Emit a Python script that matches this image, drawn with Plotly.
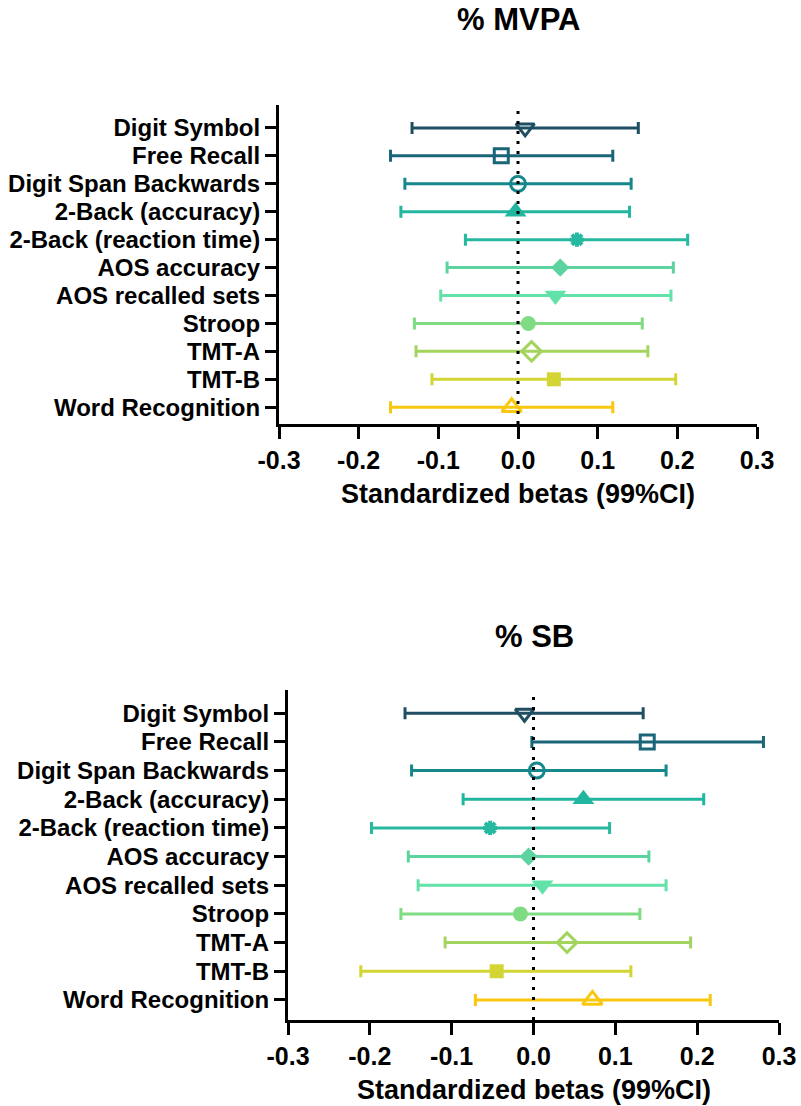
import plotly.graph_objects as go

labels = ["Digit Symbol", "Free Recall", "Digit Span Backwards", "2-Back (accuracy)",
          "2-Back (reaction time)", "AOS accuracy", "AOS recalled sets", "Stroop",
          "TMT-A", "TMT-B", "Word Recognition"]

mvpa_beta = [0.009, -0.021, 0.000, -0.003, 0.074, 0.053, 0.047, 0.013, 0.017, 0.045, -0.008]
mvpa_low = [-0.133, -0.160, -0.142, -0.147, -0.066, -0.089, -0.097, -0.130, -0.128, -0.108, -0.160]
mvpa_high = [0.151, 0.119, 0.142, 0.140, 0.213, 0.195, 0.192, 0.156, 0.163, 0.198, 0.119]

sb_beta = [-0.011, 0.139, 0.004, 0.061, -0.053, -0.006, 0.011, -0.016, 0.041, -0.045, 0.072]
sb_low = [-0.157, -0.002, -0.149, -0.086, -0.198, -0.153, -0.141, -0.162, -0.108, -0.211, -0.071]
sb_high = [0.134, 0.281, 0.162, 0.208, 0.093, 0.141, 0.162, 0.130, 0.192, 0.119, 0.216]

x_ticks = [-0.3, -0.2, -0.1, 0.0, 0.1, 0.2, 0.3]
x_tick_text = ["-0.3", "-0.2", "-0.1", "0.0", "0.1", "0.2", "0.3"]

colors = ["#1f4e62", "#1a6578", "#16878b", "#22b59f", "#27b8a0", "#5dd49f",
          "#62e1a8", "#7fdc84", "#a3d55e", "#d3d534", "#f9c80e"]
symbols = ["triangle-down-open", "square-open", "circle-open", "triangle-up",
           "asterisk-open", "diamond", "triangle-down", "circle", "diamond-open",
           "square", "triangle-up-open"]
sizes = [16, 14, 15, 19, 12, 14, 19, 15, 15, 14, 17]

FONT = "Liberation Sans, Arial, sans-serif"

fig = go.Figure()


def add_panel(beta, low, high, xa, ya):
    for i, lab in enumerate(labels):
        sym = symbols[i]
        is_open = sym.endswith("-open")
        lw = 4 if sym.startswith("asterisk") else (3 if is_open else 0)
        fig.add_trace(go.Scatter(
            x=[beta[i]], y=[lab], mode="markers",
            xaxis=xa, yaxis=ya, showlegend=False,
            marker=dict(symbol=sym, size=sizes[i], color=colors[i],
                        line=dict(color=colors[i], width=lw)),
            error_x=dict(type="data", symmetric=False,
                         array=[high[i] - beta[i]], arrayminus=[beta[i] - low[i]],
                         color=colors[i], thickness=3, width=6),
        ))


add_panel(mvpa_beta, mvpa_low, mvpa_high, "x", "y")
add_panel(sb_beta, sb_low, sb_high, "x2", "y2")

W, H = 801, 1106


def xdom(a, b):
    return [a / W, b / W]


def ydom(top, bottom):
    return [1 - bottom / H, 1 - top / H]


axis_common = dict(showline=True, linecolor="black", linewidth=3, ticks="outside",
                   tickwidth=3, tickcolor="black", showgrid=False, zeroline=False,
                   mirror=False, automargin=False)

xfont = dict(family=FONT, size=25, color="black", weight="bold")
yfont = dict(family=FONT, size=24, color="black", weight="bold")

fig.update_layout(
    width=W, height=H, autosize=False,
    margin=dict(l=0, r=0, t=0, b=0, pad=0, autoexpand=False),
    paper_bgcolor="white", plot_bgcolor="white",
    xaxis=dict(domain=xdom(279, 757), range=[-0.3, 0.3], tickmode="array",
               tickvals=x_ticks, ticktext=x_tick_text, ticklen=12, tickfont=xfont,
               anchor="y", **axis_common),
    yaxis=dict(domain=ydom(105, 424), type="category", categoryarray=labels,
               tickmode="array", tickvals=labels, ticktext=labels,
               range=[10.6, -0.82], ticklen=11, tickfont=yfont, anchor="x",
               **axis_common),
    xaxis2=dict(domain=xdom(288, 779), range=[-0.3, 0.3], tickmode="array",
                tickvals=x_ticks, ticktext=x_tick_text, ticklen=12, tickfont=xfont,
                anchor="y2", **axis_common),
    yaxis2=dict(domain=ydom(690, 1020), type="category", categoryarray=labels,
                tickmode="array", tickvals=labels, ticktext=labels,
                range=[10.7, -0.81], ticklen=11, tickfont=yfont, anchor="x2",
                **axis_common),
)

for xr, yr in [("x", "y domain"), ("x2", "y2 domain")]:
    fig.add_shape(type="line", xref=xr, yref=yr, x0=0, x1=0, y0=0, y1=1,
                  line=dict(color="black", width=3, dash="3px,7px"), layer="above")

ann_title = dict(family=FONT, size=31, color="black", weight="bold")
ann_axis = dict(family=FONT, size=27, color="black", weight="bold")

fig.add_annotation(text="% MVPA", x=518 / W, y=1 - 20 / H, xref="paper", yref="paper",
                   showarrow=False, font=ann_title, xanchor="center", yanchor="middle")
fig.add_annotation(text="% SB", x=534 / W, y=1 - 636 / H, xref="paper", yref="paper",
                   showarrow=False, font=ann_title, xanchor="center", yanchor="middle")
fig.add_annotation(text="Standardized betas (99%CI)", x=518 / W, y=1 - 494 / H,
                   xref="paper", yref="paper", showarrow=False, font=ann_axis,
                   xanchor="center", yanchor="middle")
fig.add_annotation(text="Standardized betas (99%CI)", x=534 / W, y=1 - 1090 / H,
                   xref="paper", yref="paper", showarrow=False, font=ann_axis,
                   xanchor="center", yanchor="middle")

fig.write_html("out.html")
